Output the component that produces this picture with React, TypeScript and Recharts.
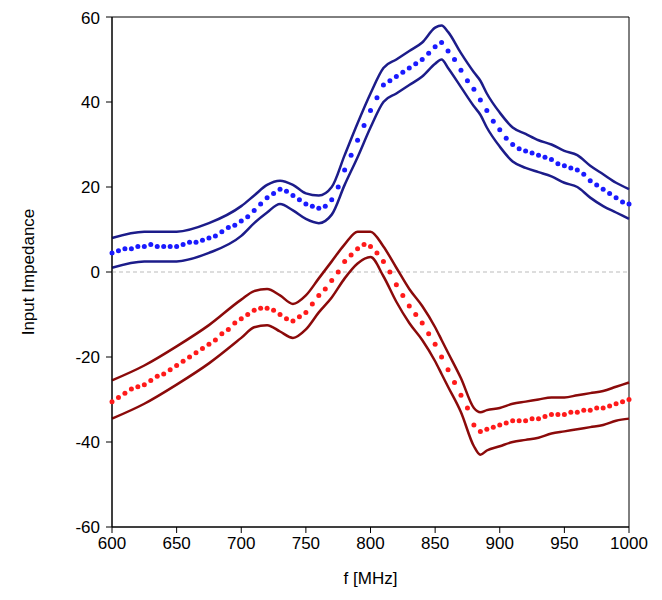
import React from 'react';
import { ComposedChart, Line, XAxis, YAxis, ReferenceLine, ReferenceArea, Label } from 'recharts';

// band lines (coarse sampling)
const bandFreqs = [600, 625, 650, 675, 700, 710, 720, 730, 740, 750, 760, 770, 780, 790, 800, 810, 820, 830, 840, 850, 855, 860, 870, 880, 885, 890, 900, 910, 920, 930, 940, 950, 960, 970, 980, 990, 1000];
const blueHi = [8, 9.5, 9.5, 11.5, 15.5, 18, 20.5, 21.5, 20.5, 18.5, 18, 20, 27.5, 35, 42, 48, 50, 52, 54, 57.5, 58, 56.5, 51.5, 47, 45, 42, 37.5, 34, 32.5, 31, 30, 28.5, 27.5, 25, 23, 21, 19.5];
const blueLo = [1, 2.5, 2.5, 4.5, 8.5, 11.5, 14, 16, 14.5, 12.5, 11.5, 13.5, 20.5, 27, 34, 40, 42, 44, 46, 49, 50, 48, 43.5, 39, 37, 34, 29.5, 26, 24.5, 23.5, 22.5, 21, 20, 17.5, 15.5, 14, 12.5];
const redHi = [-25.5, -22, -17.5, -12.5, -6.5, -4.5, -4, -5.5, -7.5, -5.5, -1.5, 2.5, 6.5, 9.5, 9.5, 6, 1, -4, -8, -13, -16, -19, -25, -32, -33, -32.5, -32, -31, -30.5, -30, -29.5, -29.5, -29, -28.5, -28, -27, -26];
const redLo = [-34.5, -31, -26.5, -21.5, -15.5, -13, -12.5, -14, -15.5, -13.5, -9.5, -6, -1.5, 2, 3.5, -1, -7, -12, -16, -21, -24, -27, -33, -41, -43, -42, -41, -40, -39.5, -39, -38, -37.5, -37, -36.5, -36, -35, -34.5];

// dotted centre series, every 5 MHz
const dotFreqs = [600, 605, 610, 615, 620, 625, 630, 635, 640, 645, 650, 655, 660, 665, 670, 675, 680, 685, 690, 695, 700, 705, 710, 715, 720, 725, 730, 735, 740, 745, 750, 755, 760, 765, 770, 775, 780, 785, 790, 795, 800, 805, 810, 815, 820, 825, 830, 835, 840, 845, 850, 855, 860, 865, 870, 875, 880, 885, 890, 895, 900, 905, 910, 915, 920, 925, 930, 935, 940, 945, 950, 955, 960, 965, 970, 975, 980, 985, 990, 995, 1000];
const blueMid = [4.5, 5, 5.5, 5.5, 6, 6, 6.5, 6, 6, 6, 6, 6.5, 7, 7, 7.5, 8, 8.5, 9.5, 10.5, 11, 12, 13, 14.5, 16, 17.5, 18.5, 19.5, 19, 18, 17, 16, 15.5, 15, 15.5, 17, 20, 24, 27.5, 31, 34.5, 38, 41, 44, 45, 46, 47, 48, 49, 50, 51.5, 53, 54, 52, 50, 47.5, 45, 43, 40.5, 38, 35.5, 33.5, 31.5, 30, 29, 28.5, 28, 27.5, 27, 26.5, 25.5, 25, 24.5, 24, 23, 21.5, 20.5, 19.5, 18.5, 17.5, 16.5, 16];
const redMid = [-30.5, -29.5, -28.5, -27.5, -27, -26.5, -25.5, -24.5, -24, -23, -22, -21, -20, -19, -18, -17, -16, -14.5, -13.5, -12, -11, -10, -9, -8.5, -8.5, -9, -10, -11, -11.5, -10.5, -9.5, -7.5, -5.5, -4, -2, 0, 2.5, 4, 5.5, 6.5, 6, 4.5, 2.5, 0, -3, -5.5, -8, -10, -12, -14.5, -17, -20, -23, -26, -29, -32, -36, -37.5, -37, -36.5, -36, -35.5, -35, -35, -35, -34.5, -34.5, -34, -33.5, -33.5, -33.5, -33, -33, -32.5, -32.5, -32, -32, -31.5, -31, -30.5, -30];

const bandData = bandFreqs.map((f, i) => ({ f, blueHi: blueHi[i], blueLo: blueLo[i], redHi: redHi[i], redLo: redLo[i] }));
const dotData = dotFreqs.map((f, i) => ({ f, blueMid: blueMid[i], redMid: redMid[i] }));

const xTicks = [600, 650, 700, 750, 800, 850, 900, 950, 1000];
const yTicks = [-60, -40, -20, 0, 20, 40, 60];
const font = { fontFamily: 'Arial, "Liberation Sans", sans-serif', fontSize: 17, fill: '#000' };

export default function App() {
  return (
    <ComposedChart width={646} height={590} margin={{ top: 9, right: 25, left: 0, bottom: 0 }}>
      <XAxis dataKey="f" type="number" domain={[600, 1000]} ticks={xTicks} tick={font} tickLine={{ stroke: '#000' }} axisLine={{ stroke: '#000' }} height={71} tickMargin={4} allowDuplicatedCategory={false}>
        <Label value="f [MHz]" position="insideBottom" offset={14} style={font} />
      </XAxis>
      <YAxis type="number" domain={[-60, 60]} ticks={yTicks} tick={font} tickLine={{ stroke: '#000' }} axisLine={{ stroke: '#000' }} width={104} tickMargin={6}>
        <Label value="Input Impedance" angle={-90} position="insideLeft" offset={20} style={{ ...font, textAnchor: 'middle' }} />
      </YAxis>
      <ReferenceArea x1={600} x2={1000} y1={-60} y2={60} fill="none" stroke="#000" />
      <ReferenceLine y={0} stroke="#bbb" strokeDasharray="4 3" />
      <Line data={bandData} dataKey="blueHi" type="monotone" stroke="#1c1c8a" strokeWidth={2.5} dot={false} isAnimationActive={false} />
      <Line data={bandData} dataKey="blueLo" type="monotone" stroke="#1c1c8a" strokeWidth={2.5} dot={false} isAnimationActive={false} />
      <Line data={dotData} dataKey="blueMid" type="monotone" stroke="none" dot={{ r: 2.5, fill: '#1a1aff', stroke: 'none' }} isAnimationActive={false} />
      <Line data={bandData} dataKey="redHi" type="monotone" stroke="#8b0a0a" strokeWidth={2.5} dot={false} isAnimationActive={false} />
      <Line data={bandData} dataKey="redLo" type="monotone" stroke="#8b0a0a" strokeWidth={2.5} dot={false} isAnimationActive={false} />
      <Line data={dotData} dataKey="redMid" type="monotone" stroke="none" dot={{ r: 2.5, fill: '#ff1a1a', stroke: 'none' }} isAnimationActive={false} />
    </ComposedChart>
  );
}
